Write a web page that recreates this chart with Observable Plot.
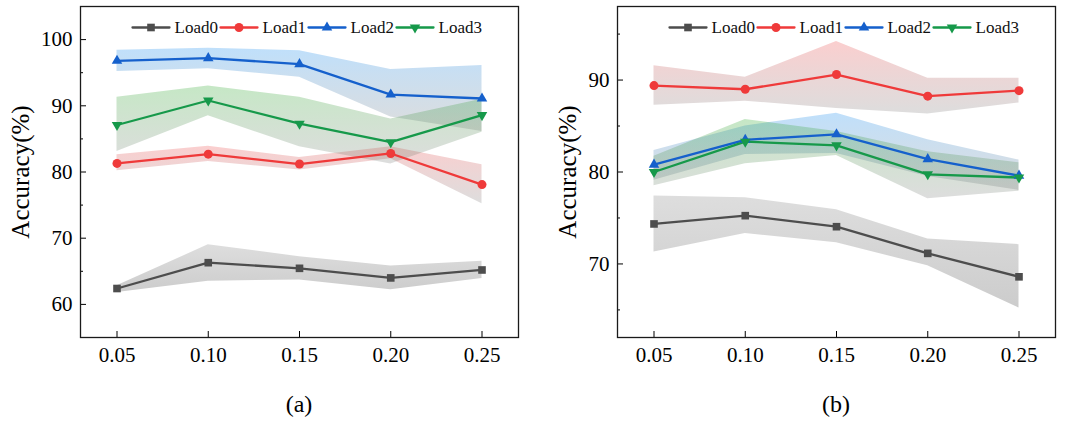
<!DOCTYPE html>
<html>
<head>
<meta charset="utf-8">
<script src="https://cdn.jsdelivr.net/npm/d3@7"></script>
<script src="https://cdn.jsdelivr.net/npm/@observablehq/plot@0.6"></script>
<style>
  html, body { margin: 0; padding: 0; background: #fff; }
  #wrap { display: flex; width: 1080px; }
  .panel { width: 540px; }
  .cap { font-family: "Liberation Serif", serif; font-size: 24px; line-height: 30px; text-align: center; padding-top: 21px; }
</style>
</head>
<body>
<div id="wrap"></div>
<script>
// ---------- data ----------
const xValues = [0.05, 0.10, 0.15, 0.20, 0.25];
const seriesNames = ["Load0", "Load1", "Load2", "Load3"];
const lineColors = ["#4d4d4d", "#ef3a3a", "#1560cc", "#16994a"];
const bandColors = ["#838383", "#ef4b4b", "#138af0", "#2aa82a"];
const yTicksA = [60, 70, 80, 90, 100];
const yMinorA = [65, 75, 85, 95];
const yTicksB = [70, 80, 90];
const yMinorB = [65, 75, 85, 95];
const yLabel = "Accuracy(%)";
const captions = ["(a)", "(b)"];

// panel (a)
const aLoad0 = [62.4, 66.3, 65.45, 64.0, 65.2];
const aLoad0Lo = [61.8, 63.5, 63.7, 62.2, 63.9];
const aLoad0Hi = [62.8, 69.0, 67.2, 65.8, 66.5];
const aLoad1 = [81.3, 82.7, 81.2, 82.8, 78.1];
const aLoad1Lo = [80.2, 81.6, 80.3, 82.0, 75.2];
const aLoad1Hi = [82.6, 83.9, 82.2, 83.8, 81.1];
const aLoad2 = [96.8, 97.2, 96.3, 91.7, 91.1];
const aLoad2Lo = [95.2, 95.6, 94.3, 88.3, 86.1];
const aLoad2Hi = [98.4, 98.7, 98.3, 95.5, 96.1];
const aLoad3 = [87.1, 90.8, 87.3, 84.5, 88.6];
const aLoad3Lo = [83.1, 88.5, 83.8, 81.2, 86.0];
const aLoad3Hi = [91.3, 93.0, 91.3, 88.0, 91.0];

// panel (b)
const bLoad0 = [74.35, 75.25, 74.05, 71.15, 68.6];
const bLoad0Lo = [71.3, 73.3, 72.3, 69.8, 65.2];
const bLoad0Hi = [77.4, 77.2, 75.9, 72.7, 72.1];
const bLoad1 = [89.4, 89.0, 90.6, 88.25, 88.85];
const bLoad1Lo = [87.25, 87.7, 86.9, 86.3, 87.5];
const bLoad1Hi = [91.55, 90.3, 94.2, 90.2, 90.2];
const bLoad2 = [80.8, 83.5, 84.1, 81.4, 79.6];
const bLoad2Lo = [79.1, 81.9, 82.0, 79.5, 78.0];
const bLoad2Hi = [82.35, 85.0, 86.4, 83.5, 81.3];
const bLoad3 = [80.0, 83.3, 82.9, 79.75, 79.4];
const bLoad3Lo = [78.5, 80.9, 81.8, 77.1, 77.9];
const bLoad3Hi = [81.7, 85.7, 84.4, 82.2, 81.0];

// ---------- build tables ----------
function table(means, los, his) {
  return seriesNames.map((name, s) => xValues.map((x, i) => ({
    series: name, x, y: means[s][i], lo: los[s][i], hi: his[s][i]
  })));
}
const dataA = table([aLoad0, aLoad1, aLoad2, aLoad3], [aLoad0Lo, aLoad1Lo, aLoad2Lo, aLoad3Lo], [aLoad0Hi, aLoad1Hi, aLoad2Hi, aLoad3Hi]);
const dataB = table([bLoad0, bLoad1, bLoad2, bLoad3], [bLoad0Lo, bLoad1Lo, bLoad2Lo, bLoad3Lo], [bLoad0Hi, bLoad1Hi, bLoad2Hi, bLoad3Hi]);

const FONT = "'Liberation Serif', 'Times New Roman', serif";

const triangleDown = {
  draw(context, size) {
    const y = -Math.sqrt(size / (Math.sqrt(3) * 3));
    context.moveTo(0, -y * 2);
    context.lineTo(-Math.sqrt(3) * y, y);
    context.lineTo(Math.sqrt(3) * y, y);
    context.closePath();
  }
};
const symbols = ["square", "circle", "triangle", triangleDown];
const radii = [4.3, 4.5, 3.9, 3.9];
const segment = { draw(context, l) { context.moveTo(0, 0); context.lineTo(0, -l); } };

function gradientDefs(prefix) {
  return () => {
    const ns = "http://www.w3.org/2000/svg";
    const defs = document.createElementNS(ns, "defs");
    bandColors.forEach((c, i) => {
      const g = document.createElementNS(ns, "linearGradient");
      g.setAttribute("id", prefix + i);
      g.setAttribute("x1", "0"); g.setAttribute("y1", "0");
      g.setAttribute("x2", "0"); g.setAttribute("y2", "1");
      const s1 = document.createElementNS(ns, "stop");
      s1.setAttribute("offset", "0"); s1.setAttribute("stop-color", c); s1.setAttribute("stop-opacity", "0.27");
      const s2 = document.createElementNS(ns, "stop");
      s2.setAttribute("offset", "1"); s2.setAttribute("stop-color", i === 0 ? "#555" : "#777"); s2.setAttribute("stop-opacity", i === 0 ? "0.3" : "0.25");
      g.appendChild(s1); g.appendChild(s2);
      defs.appendChild(g);
    });
    return defs;
  };
}

function panel(data, prefix, yDomain, yTicks, yMinor, ml, mr, labelDx) {
  const marks = [gradientDefs(prefix)];
  data.forEach((rows, s) => {
    marks.push(Plot.areaY(rows, {x: "x", y1: "lo", y2: "hi", fill: `url(#${prefix}${s})`}));
  });
  data.forEach((rows, s) => {
    marks.push(Plot.line(rows, {x: "x", y: "y", stroke: lineColors[s], strokeWidth: 2.3}));
  });
  data.forEach((rows, s) => {
    marks.push(Plot.dot(rows, {x: "x", y: "y", symbol: symbols[s], r: radii[s], fill: lineColors[s], stroke: "none"}));
  });
  // legend
  seriesNames.forEach((name, s) => {
    const x0 = 52 + s * 88;
    marks.push(Plot.vector([0], {frameAnchor: "top-left", dx: x0, dy: 21, rotate: 90, length: 37, anchor: "start", shape: segment, stroke: lineColors[s], strokeWidth: 2.3}));
    marks.push(Plot.dot([0], {frameAnchor: "top-left", dx: x0 + 18.5, dy: 21, symbol: symbols[s], r: radii[s], fill: lineColors[s], stroke: "none"}));
    marks.push(Plot.text([name], {frameAnchor: "top-left", dx: x0 + 42, dy: 21, text: d => d, textAnchor: "start", lineAnchor: "middle", fontSize: 17, fontFamily: FONT, fill: "#111"}));
  });
  // tick marks (inward)
  marks.push(Plot.axisX({ticks: xValues, tickSize: -6, tickFormat: () => ""}));
  marks.push(Plot.axisY({ticks: yTicks, tickSize: -6, tickFormat: () => "", label: null}));
  marks.push(Plot.axisY({ticks: yMinor, tickSize: -3, tickFormat: () => "", label: null}));
  // tick labels
  marks.push(Plot.text(xValues, {x: d => d, frameAnchor: "bottom", dy: 18, text: d => d3.format(".2f")(d), fontSize: 21, fontFamily: FONT, fill: "#000", lineAnchor: "middle"}));
  marks.push(Plot.text(yTicks, {y: d => d, frameAnchor: "left", dx: -8, text: d => String(d), textAnchor: "end", fontSize: 21, fontFamily: FONT, fill: "#000", lineAnchor: "middle"}));
  marks.push(Plot.text([yLabel], {frameAnchor: "left", dx: labelDx, rotate: -90, text: d => d, textAnchor: "middle", lineAnchor: "middle", fontSize: 25, fontFamily: FONT}));
  marks.push(Plot.frame({stroke: "#1a1a1a", strokeWidth: 1.3}));
  return Plot.plot({
    width: 540,
    height: 368,
    marginTop: 6,
    marginBottom: 31,
    marginLeft: ml,
    marginRight: mr,
    style: {fontFamily: FONT, fontSize: "21px", background: "#fff", color: "#000"},
    x: {domain: [0.03, 0.27], label: null},
    y: {domain: yDomain, label: null},
    marks
  });
}

const wrap = document.getElementById("wrap");
const configs = [
  {data: dataA, prefix: "gA", yDomain: [55, 105], yTicks: yTicksA, yMinor: yMinorA, ml: 80, mr: 22, labelDx: -60},
  {data: dataB, prefix: "gB", yDomain: [62, 98], yTicks: yTicksB, yMinor: yMinorB, ml: 77, mr: 25, labelDx: -50}
];
configs.forEach((c, i) => {
  const div = document.createElement("div");
  div.className = "panel";
  div.appendChild(panel(c.data, c.prefix, c.yDomain, c.yTicks, c.yMinor, c.ml, c.mr, c.labelDx));
  const cap = document.createElement("div");
  cap.className = "cap";
  cap.style.marginLeft = c.ml + "px";
  cap.style.width = (540 - c.ml - c.mr) + "px";
  cap.textContent = captions[i];
  div.appendChild(cap);
  wrap.appendChild(div);
});
</script>
</body>
</html>
